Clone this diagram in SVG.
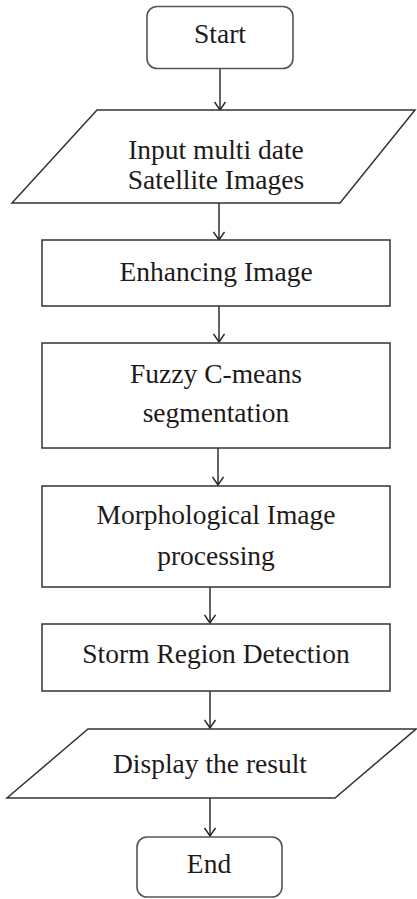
<svg xmlns="http://www.w3.org/2000/svg" width="417" height="899" viewBox="0 0 417 899">
<defs>
<style>
.shape{fill:#fff;stroke:#333;stroke-width:1.5}
.term{fill:#fff;stroke:#555;stroke-width:1.6}
.lbl{font-family:"Liberation Serif","Times New Roman",serif;font-size:27.5px;fill:#1e1a1a;text-anchor:middle}
.conn{fill:none;stroke:#222;stroke-width:1.4}
</style>
<marker id="arr" viewBox="0 0 10 12" refX="9" refY="6" markerWidth="10" markerHeight="12" markerUnits="userSpaceOnUse" orient="auto">
<path d="M1,0.5 L9,6 L1,11.5" fill="none" stroke="#222" stroke-width="1.4"/>
</marker>
</defs>
<rect width="417" height="899" fill="#fff"/>
<g id="connectors">
<path class="conn" d="M220,68 V110" marker-end="url(#arr)"/>
<path class="conn" d="M219,203 V240" marker-end="url(#arr)"/>
<path class="conn" d="M219,306 V342" marker-end="url(#arr)"/>
<path class="conn" d="M218,448 V485" marker-end="url(#arr)"/>
<path class="conn" d="M210,587 V623" marker-end="url(#arr)"/>
<path class="conn" d="M210,691 V728" marker-end="url(#arr)"/>
<path class="conn" d="M210,798 V836" marker-end="url(#arr)"/>
</g>
<g id="start">
<rect class="term" x="147" y="6.5" width="146" height="62" rx="10"/>
<text class="lbl" x="220" y="43">Start</text>
</g>
<g id="input">
<polygon class="shape" points="97,110 415,110 340,203 12,203"/>
<text class="lbl" x="216" y="159">Input multi date</text>
<text class="lbl" x="216" y="189">Satellite Images</text>
</g>
<g id="enhance">
<rect class="shape" x="42" y="240" width="348" height="66"/>
<text class="lbl" x="216" y="281">Enhancing Image</text>
</g>
<g id="fcm">
<rect class="shape" x="42" y="343" width="348" height="105"/>
<text class="lbl" x="216" y="383">Fuzzy C-means</text>
<text class="lbl" x="216" y="422">segmentation</text>
</g>
<g id="morph">
<rect class="shape" x="42" y="486" width="348" height="101"/>
<text class="lbl" x="216" y="524">Morphological Image</text>
<text class="lbl" x="216" y="565">processing</text>
</g>
<g id="storm">
<rect class="shape" x="42" y="624" width="348" height="67"/>
<text class="lbl" x="216" y="663">Storm Region Detection</text>
</g>
<g id="display">
<polygon class="shape" points="88,729 416,729 335,798 7,798"/>
<text class="lbl" x="210" y="773">Display the result</text>
</g>
<g id="end">
<rect class="term" x="137" y="837" width="145" height="60" rx="10"/>
<text class="lbl" x="209" y="873">End</text>
</g>
</svg>
